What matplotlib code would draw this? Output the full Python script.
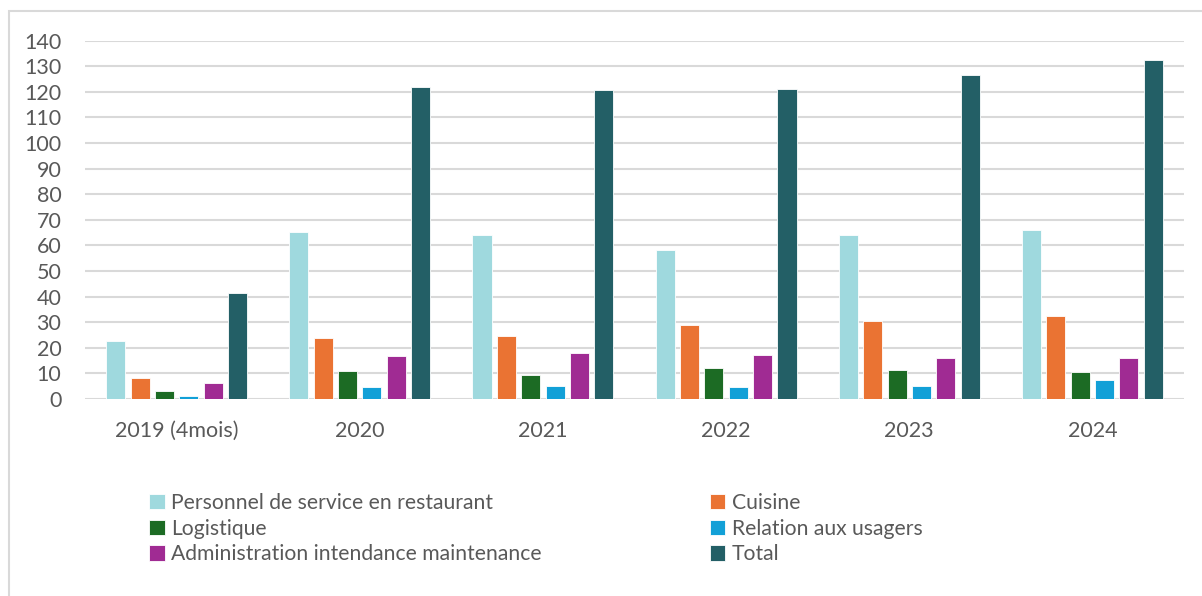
import matplotlib
matplotlib.use("Agg")
import matplotlib.pyplot as plt
import numpy as np
from matplotlib.patches import Rectangle

categories = ["2019 (4mois)", "2020", "2021", "2022", "2023", "2024"]
series_names = ["Personnel de service en restaurant", "Cuisine", "Logistique",
                "Relation aux usagers", "Administration intendance maintenance", "Total"]
personnel = [22.5, 65.3, 63.9, 58.3, 63.9, 66.0]
cuisine = [8.4, 23.8, 24.8, 28.8, 30.5, 32.6]
logistique = [3.0, 10.9, 9.2, 12.1, 11.2, 10.5]
relation = [1.3, 4.7, 4.9, 4.5, 5.1, 7.3]
admin = [6.4, 16.9, 17.8, 17.1, 16.0, 16.1]
total = [41.6, 122.0, 120.9, 121.2, 126.6, 132.6]
yticks = list(range(0, 141, 10))

colors = ["#9fd9de", "#ea7333", "#1c6b24", "#12a0d7", "#a02b93", "#235f66"]
values = [personnel, cuisine, logistique, relation, admin, total]

plt.rcParams['font.family'] = ['Lato', 'DejaVu Sans']
fig = plt.figure(figsize=(12.02, 5.96), dpi=100)
# outer frame
fig.patches.append(Rectangle((9/1202, -0.2), 1.2, 1.2 - 11/596, transform=fig.transFigure,
                             fill=False, edgecolor="#d9d9d9", linewidth=1.5))

ax = fig.add_axes([85/1202, 1 - 399/596, (1184-85)/1202, (399-40.7)/596])
x = np.arange(len(categories))
pitch = 0.133
width = 0.104
handles = []
for i, (name, vals, c) in enumerate(zip(series_names, values, colors)):
    h = ax.bar(x + (i - 2.5) * pitch, vals, width, color=c, edgecolor="white",
               linewidth=0.6, label=name, zorder=3)
    handles.append(h)

ax.set_xlim(-0.5, len(categories) - 0.5)
ax.set_ylim(0, 140)
ax.set_yticks(yticks)
ax.set_xticks(x)
ax.set_xticklabels(categories)
ax.grid(axis="y", color="#d9d9d9", linewidth=1.5, zorder=0)
for s in ax.spines.values():
    s.set_visible(False)
ax.tick_params(axis="both", length=0, labelsize=15.5, labelcolor="#595959")
ax.tick_params(axis="y", pad=17)
ax.tick_params(axis="x", pad=16)
for lab in ax.get_yticklabels():
    lab.set_horizontalalignment("right")

order = [0, 2, 4, 1, 3, 5]
leg = fig.legend([handles[i] for i in order], [series_names[i] for i in order],
                 ncol=2, loc="upper left", bbox_to_anchor=(149/1202, 1 - 493/596),
                 frameon=False, fontsize=15.2, labelcolor="#595959",
                 handlelength=0.75, handleheight=0.75, handletextpad=0.3,
                 columnspacing=7.95, labelspacing=0.27, borderpad=0, borderaxespad=0)

fig.savefig("out.png", dpi=100)
